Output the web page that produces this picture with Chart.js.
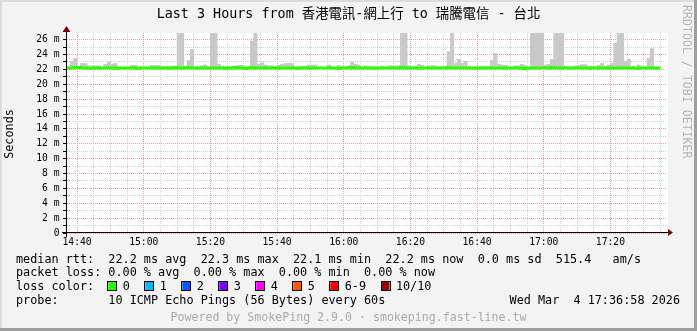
<!DOCTYPE html>
<html lang="zh-Hant">
<head>
  <meta charset="UTF-8">
  <title>SmokePing - 香港電訊-網上行 to 瑞騰電信 - 台北</title>
  <script src="https://cdn.jsdelivr.net/npm/chart.js"></script>
  <style>
    body { margin: 0; background: #f3f3f3; }
    #grafico { display: block; }
  </style>
</head>
<body>
  <canvas id="grafico" width="697" height="331"></canvas>
  <script>
    // Datos: una muestra por minuto, desde las 14:37 (minuto -3 respecto a las 14:40)
    const firstMinute = -3;
    // tope del humo (ms), valores por encima de ~26.9 quedan recortados
    const smokeTop = [
      22.3, 23.1, 23.5, 22.4, 22.8, 22.8, 22.5, 22.5, 22.5, 22.5,
      22.3, 22.7, 23.0, 22.7, 22.8, 22.3, 22.3, 22.3, 22.3, 22.55,
      22.55, 22.3, 22.3, 22.3, 22.3, 22.55, 22.55, 22.55, 22.4, 22.4,
      22.4, 22.4, 22.4, 27.5, 27.5, 22.4, 23.2, 24.7, 22.35, 22.35,
      22.5, 22.6, 22.3, 27.5, 27.5, 22.7, 22.4, 22.3, 22.35, 22.3,
      22.4, 22.55, 22.55, 22.3, 22.2, 25.85, 27.5, 22.7, 22.9, 22.6,
      22.5, 22.5, 22.4, 22.55, 22.7, 22.8, 22.8, 22.8, 22.35, 22.35,
      22.35, 22.45, 22.6, 22.6, 22.6, 22.3, 22.3, 22.3, 22.6, 22.35,
      22.35, 22.5, 22.4, 22.4, 22.5, 23.0, 22.7, 22.6, 22.4, 22.5,
      22.4, 22.3, 22.3, 22.3, 22.45, 22.3, 22.5, 22.5, 22.5, 22.5,
      27.5, 27.5, 22.5, 22.4, 22.4, 22.7, 22.55, 22.3, 22.5, 22.5,
      22.5, 22.35, 22.35, 22.35, 24.4, 27.5, 22.8, 23.35, 22.8, 23.1,
      22.4, 22.35, 22.35, 22.35, 22.35, 22.4, 22.4, 23.2, 24.15, 22.7,
      22.6, 22.55, 22.3, 22.3, 22.5, 22.5, 22.7, 22.5, 22.3, 27.5,
      27.5, 27.5, 27.5, 22.6, 22.7, 23.35, 27.5, 27.5, 27.5, 22.4,
      22.3, 22.3, 22.45, 22.55, 22.65, 22.65, 22.4, 22.4, 22.4, 22.55,
      22.8, 22.45, 22.6, 22.85, 25.55, 27.5, 27.5, 23.1, 23.35, 22.4,
      22.3, 22.6, 22.3, 22.3, 23.5, 24.8, 22.3, 22.3
    ];
    // mediana rtt (ms)
    const medianRtt = [
      22.2, 22.2, 22.2, 22.25, 22.25, 22.2, 22.2, 22.15, 22.15, 22.2,
      22.2, 22.2, 22.2, 22.2, 22.2, 22.15, 22.2, 22.2, 22.2, 22.2,
      22.2, 22.2, 22.15, 22.2, 22.2, 22.2, 22.2, 22.2, 22.2, 22.2,
      22.2, 22.15, 22.2, 22.25, 22.2, 22.2, 22.2, 22.25, 22.2, 22.2,
      22.2, 22.2, 22.2, 22.2, 22.2, 22.2, 22.2, 22.2, 22.15, 22.2,
      22.2, 22.25, 22.2, 22.2, 22.15, 22.2, 22.25, 22.2, 22.2, 22.2,
      22.2, 22.2, 22.2, 22.2, 22.15, 22.2, 22.2, 22.2, 22.2, 22.2,
      22.15, 22.2, 22.2, 22.2, 22.2, 22.2, 22.2, 22.2, 22.2, 22.2,
      22.2, 22.2, 22.15, 22.2, 22.2, 22.2, 22.25, 22.2, 22.2, 22.2,
      22.2, 22.2, 22.2, 22.15, 22.2, 22.2, 22.2, 22.2, 22.2, 22.2,
      22.2, 22.25, 22.2, 22.2, 22.2, 22.2, 22.15, 22.2, 22.2, 22.2,
      22.2, 22.2, 22.2, 22.2, 22.2, 22.25, 22.2, 22.2, 22.2, 22.2,
      22.2, 22.2, 22.2, 22.15, 22.2, 22.2, 22.2, 22.2, 22.2, 22.2,
      22.2, 22.2, 22.2, 22.2, 22.2, 22.2, 22.2, 22.2, 22.1, 22.2,
      22.2, 22.2, 22.2, 22.2, 22.2, 22.2, 22.25, 22.2, 22.2, 22.2,
      22.2, 22.2, 22.2, 22.2, 22.2, 22.2, 22.2, 22.15, 22.2, 22.2,
      22.2, 22.2, 22.2, 22.15, 22.2, 22.2, 22.2, 22.2, 22.2, 22.2,
      22.2, 22.2, 22.15, 22.2, 22.2, 22.2, 22.2, 22.2
    ];

    // Ejes
    const xMajorMinutes = [0, 20, 40, 60, 80, 100, 120, 140, 160];
    const xTickLabels = ['14:40', '15:00', '15:20', '15:40', '16:00', '16:20', '16:40', '17:00', '17:20'];
    const yMajor = [0, 2, 4, 6, 8, 10, 12, 14, 16, 18, 20, 22, 24, 26];
    const yMinor = [1, 3, 5, 7, 9, 11, 13, 15, 17, 19, 21, 23, 25];

    // Leyenda
    const statsLine = 'median rtt:  22.2 ms avg  22.3 ms max  22.1 ms min  22.2 ms now  0.0 ms sd  515.4   am/s';
    const lossLine = 'packet loss: 0.00 % avg  0.00 % max  0.00 % min  0.00 % now';
    const lossLabels = ['0', '1', '2', '3', '4', '5', '6-9', '10/10'];
    const lossColors = ['#26ff00', '#00b8ff', '#0059ff', '#7e00ff', '#ff00ff', '#ff5500', '#ff0000', '#a10000'];
    const probeLine = 'probe:       10 ICMP Echo Pings (56 Bytes) every 60s';
    const stampText = 'Wed Mar  4 17:36:58 2026';
    const titleText = 'Last 3 Hours from 香港電訊-網上行 to 瑞騰電信 - 台北';
    const poweredText = 'Powered by SmokePing 2.9.0 · smokeping.fast-line.tw';

    const MONO = "'DejaVu Sans Mono', 'Noto Sans CJK TC', monospace";

    const xMinor = [];
    for (let m = 0; m <= 175; m += 5) xMinor.push(m);

    const smokeData = smokeTop.map((v, i) => ({ x: firstMinute + i + 0.5, y: [medianRtt[i], v] }));
    const medianData = medianRtt.map((v, i) => ({ x: firstMinute + i, y: v }));
    medianData.push({ x: firstMinute + medianRtt.length, y: medianRtt[medianRtt.length - 1] });

    // fondo, marco y textos al estilo rrdtool
    const marco = {
      id: 'marco',
      beforeDraw(chart) {
        const { ctx, chartArea: a } = chart;
        ctx.save();
        ctx.fillStyle = '#f3f3f3';
        ctx.fillRect(0, 0, 697, 331);
        ctx.fillStyle = '#dcdcdc';
        ctx.fillRect(0, 0, 697, 2);
        ctx.fillRect(0, 0, 2, 331);
        ctx.fillStyle = '#9e9e9e';
        ctx.fillRect(0, 328, 697, 3);
        ctx.fillRect(694, 0, 3, 331);
        ctx.fillStyle = '#ffffff';
        ctx.fillRect(a.left, a.top, a.right - a.left + 1, a.bottom - a.top);
        ctx.restore();
      },
      afterDraw(chart) {
        const { ctx, chartArea: a } = chart;
        ctx.save();
        // ejes
        ctx.fillStyle = '#000';
        ctx.fillRect(62, a.bottom - 1, a.right - 60, 1);
        ctx.fillRect(a.left - 1, 28, 1, a.bottom - 24);
        ctx.fillStyle = '#800000';
        ctx.beginPath();
        ctx.moveTo(a.right + 1, a.bottom - 4);
        ctx.lineTo(a.right + 6, a.bottom - 0.5);
        ctx.lineTo(a.right + 1, a.bottom + 3);
        ctx.fill();
        ctx.beginPath();
        ctx.moveTo(a.left - 4.5, 32);
        ctx.lineTo(a.left - 0.5, 26);
        ctx.lineTo(a.left + 3.5, 32);
        ctx.fill();

        ctx.textBaseline = 'middle';
        ctx.fillStyle = '#000';
        ctx.font = '13.4px ' + MONO;
        ctx.textAlign = 'center';
        ctx.fillText(titleText, 348.5, 15);

        ctx.font = '11.8px ' + MONO;
        ctx.textAlign = 'left';
        ctx.fillText(statsLine, 16, 259.5);
        ctx.fillText(lossLine, 16, 273);
        ctx.fillText('loss color:', 16, 287);
        ctx.fillText(probeLine, 16, 301);
        ctx.textAlign = 'right';
        ctx.fillText(stampText, 680, 301);

        let x = 108.3;
        ctx.textAlign = 'left';
        lossLabels.forEach((lab, i) => {
          ctx.fillStyle = lossColors[i];
          ctx.fillRect(x, 282, 8, 8);
          ctx.strokeStyle = '#000';
          ctx.lineWidth = 1;
          ctx.strokeRect(Math.round(x) - 0.5, 281.5, 9, 9);
          ctx.fillStyle = '#000';
          ctx.fillText(lab, x + 14.4, 287);
          x += 14.4 + lab.length * 7.1 + 15.5;
        });

        ctx.fillStyle = '#aaaaaa';
        ctx.textAlign = 'center';
        ctx.font = '11.6px ' + MONO;
        ctx.fillText(poweredText, 348.5, 318);

        // titulo del eje y
        ctx.fillStyle = '#000';
        ctx.font = '11.8px ' + MONO;
        ctx.save();
        ctx.translate(10, 134);
        ctx.rotate(-Math.PI / 2);
        ctx.fillText('Seconds', 0, 0);
        ctx.restore();

        // marca de agua
        ctx.fillStyle = '#b4b4b4';
        ctx.font = '11.6px ' + MONO;
        ctx.textAlign = 'left';
        ctx.translate(686.5, 5);
        ctx.rotate(Math.PI / 2);
        ctx.fillText('RRDTOOL / TOBI OETIKER', 0, 0);
        ctx.restore();
      }
    };

    const MAJOR = '#eaa2a2';
    const MINOR = '#d2d2d2';
    const esMayor = (lista, c) => c.tick !== undefined && lista.includes(c.tick.value);

    new Chart(document.getElementById('grafico'), {
      type: 'bar',
      data: {
        datasets: [{
          type: 'line',
          label: 'median rtt',
          data: medianData,
          borderColor: '#26ff00',
          borderWidth: 3,
          stepped: 'after',
          pointRadius: 0,
          order: 0
        }, {
          type: 'bar',
          label: 'smoke',
          data: smokeData,
          backgroundColor: '#c9c9c9',
          borderWidth: 0,
          barThickness: 3.45,
          grouped: false,
          order: 1
        }]
      },
      options: {
        responsive: false,
        devicePixelRatio: 1,
        animation: false,
        layout: { padding: { left: 0, right: 30, top: 33, bottom: 0 } },
        plugins: { legend: { display: false }, tooltip: { enabled: false } },
        scales: {
          x: {
            type: 'linear',
            offset: false,
            min: -3.03,
            max: 176.97,
            afterBuildTicks: (axis) => { axis.ticks = xMinor.map(v => ({ value: v })); },
            afterFit: (s) => { s.height = 98; s.paddingLeft = 0; s.paddingRight = 0; },
            ticks: {
              autoSkip: false,
              maxRotation: 0,
              padding: 4,
              color: '#000',
              font: { family: MONO, size: 9.7 },
              callback: (v) => {
                const i = xMajorMinutes.indexOf(v);
                return i >= 0 ? xTickLabels[i] : '';
              }
            },
            grid: {
              offset: false,
              drawTicks: false,
              color: (c) => esMayor(xMajorMinutes, c) ? MAJOR : MINOR
            },
            border: { display: false, dash: [1, 1] }
          },
          y: {
            min: 0,
            max: 26.9,
            afterBuildTicks: (axis) => {
              axis.ticks = yMajor.concat(yMinor).sort((a, b) => a - b).map(v => ({ value: v }));
            },
            afterFit: (s) => { s.width = 67; s.paddingTop = 0; s.paddingBottom = 0; },
            ticks: {
              autoSkip: false,
              padding: 3.5,
              color: '#000',
              font: { family: MONO, size: 9.7 },
              callback: (v) => {
                if (!yMajor.includes(v)) return '';
                return v === 0 ? '0' : v + ' m';
              }
            },
            grid: {
              tickLength: 4,
              tickColor: '#000',
              tickBorderDash: [],
              color: (c) => esMayor(yMajor, c) ? MAJOR : MINOR
            },
            border: { display: false, dash: [1, 1] }
          }
        }
      },
      plugins: [marco]
    });
  </script>
</body>
</html>
